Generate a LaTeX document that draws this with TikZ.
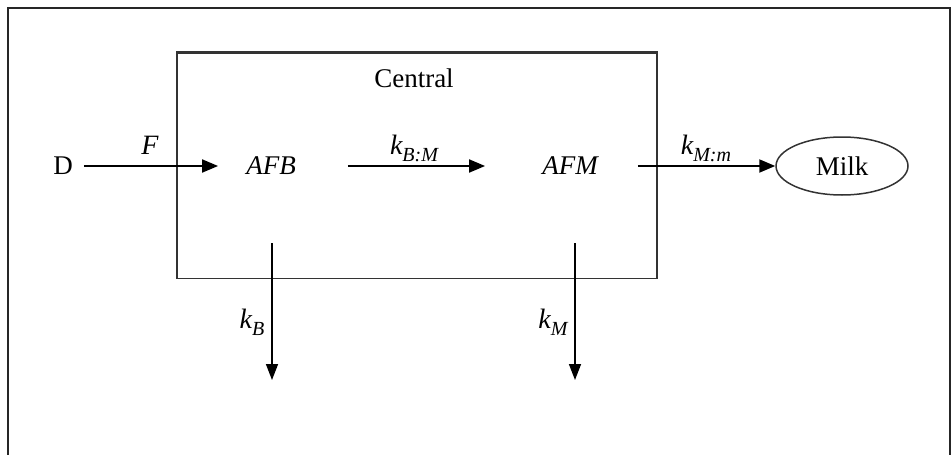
\documentclass[tikz,border=0pt]{standalone}
\usepackage{fontspec}
\setmainfont{Liberation Serif}
\usetikzlibrary{arrows.meta,shapes.geometric}
\begin{document}
\begin{tikzpicture}[x=1pt,y=-1pt,
  every node/.style={inner sep=0pt, font=\fontsize{27}{30}\selectfont},
  arr/.style={line width=2pt, -{Triangle[length=16pt,width=13pt]}},
  varr/.style={line width=1.5pt, -{Triangle[length=16pt,width=12pt]}},
  lbl/.style={font=\fontsize{28}{30}\selectfont\itshape},
  spec/.style={font=\fontsize{27}{30}\selectfont\itshape, minimum height=154pt}
]
\useasboundingbox (0,0) rectangle (951,455);
\draw[line width=1.5pt, draw=black!85] (8,455) -- (8,8) -- (950,8) -- (950,455);

\node[draw=black!80, line width=1.5pt, minimum width=480pt, minimum height=225pt] (central) at (417,166) {};
\draw[line width=3pt, draw=black!80] (central.north west) -- (central.north east);
\node (ctitle) at (414,78) {Central};

\node (D) at (63,166) {D};
\node[spec] (AFB) at (271,166) {AFB};
\node[spec] (AFM) at (570,166) {AFM};
\node[ellipse, draw=black!80, line width=1.5pt, minimum width=132pt, minimum height=58pt] (milk) at (842,166) {Milk};

\coordinate (outB) at (272,380);
\coordinate (outM) at (575,380);

\draw[arr] ([xshift=11pt]D.east) -- ([xshift=-28pt]AFB.west);
\draw[arr] ([xshift=52pt]AFB.east) -- ([xshift=-57pt]AFM.west);
\draw[arr] ([xshift=40pt]AFM.east) -- (milk.west);
\draw[varr] ([xshift=1pt]AFB.south) -- (outB);
\draw[varr] ([xshift=5pt]AFM.south) -- (outM);

\node[lbl] (F) at (150,145) {F};
\node[lbl] (kBM) at (414,148) {k\raisebox{-7pt}{\fontsize{20}{20}\selectfont B:M}};
\node[lbl] (kMm) at (706,148) {k\raisebox{-7pt}{\fontsize{20}{20}\selectfont M:m}};
\node[lbl] (kB) at (252,322) {k\raisebox{-7pt}{\fontsize{20}{20}\selectfont B}};
\node[lbl] (kM) at (553,322) {k\raisebox{-7pt}{\fontsize{20}{20}\selectfont M}};
\end{tikzpicture}
\end{document}
